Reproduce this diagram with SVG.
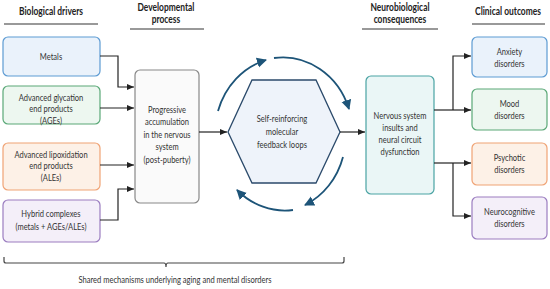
<svg xmlns="http://www.w3.org/2000/svg" width="550" height="289" viewBox="0 0 550 289">
<defs>
<marker id="ah" markerWidth="8" markerHeight="8" refX="7" refY="4" orient="auto" markerUnits="userSpaceOnUse">
<path d="M0,1 L7,4 L0,7 Z" fill="#222"/>
</marker>
<marker id="bh" markerWidth="12" markerHeight="12" refX="9" refY="6" orient="auto" markerUnits="userSpaceOnUse">
<path d="M0,1 L10,6 L0,11 Z" fill="#1d5478"/>
</marker>
<style>
.t{font-family:Lato,"Liberation Sans",sans-serif;font-size:9.2px;fill:#333;text-anchor:middle}
.s{font-family:Lato,"Liberation Sans",sans-serif;font-size:8.6px;fill:#333;text-anchor:middle}
.h{font-family:Lato,"Liberation Sans",sans-serif;font-size:10.8px;font-weight:bold;fill:#222;text-anchor:middle}
.ul{stroke:#777;stroke-width:1.5;fill:none}
.c{stroke:#222;stroke-width:1.2;fill:none;marker-end:url(#ah)}
.cn{stroke:#222;stroke-width:1.2;fill:none}
.loop{stroke:#1d5478;stroke-width:1.8;fill:none;marker-end:url(#bh)}
</style>
</defs>
<rect width="550" height="289" fill="#fff"/>

<g id="headers">
<g transform="scale(0.78 1)">
<text class="h" x="65.4" y="15">Biological drivers</text>
<text class="h" x="212.8" y="11">Developmental</text>
<text class="h" x="212.8" y="23">process</text>
<text class="h" x="512.8" y="11">Neurobiological</text>
<text class="h" x="512.8" y="23">consequences</text>
<text class="h" x="651.3" y="15">Clinical outcomes</text>
</g>
<line class="ul" x1="4" y1="24" x2="98" y2="24"/>
<line class="ul" x1="130" y1="29" x2="204" y2="29"/>
<line class="ul" x1="362" y1="29" x2="438" y2="29"/>
<line class="ul" x1="472" y1="24" x2="545" y2="24"/>
</g>

<g id="metals">
<rect x="3" y="37" width="97" height="39" rx="5" fill="#eaf2fb" stroke="#5d9bd3" stroke-width="1.2"/>
<g transform="scale(0.82 1)"><text class="t" x="62.2" y="60">Metals</text></g>
</g>
<g id="ages">
<rect x="3" y="86" width="97" height="38" rx="5" fill="#edf7f0" stroke="#5aa877" stroke-width="1.2"/>
<g transform="scale(0.82 1)">
<text class="t" x="62.2" y="101">Advanced glycation</text>
<text class="t" x="62.2" y="112.5">end products</text>
<text class="t" x="62.2" y="124">(AGEs)</text>
</g>
</g>
<g id="ales">
<rect x="3" y="143" width="97" height="47" rx="5" fill="#fdf1e7" stroke="#f0a375" stroke-width="1.2"/>
<g transform="scale(0.82 1)">
<text class="t" x="62.2" y="158">Advanced lipoxidation</text>
<text class="t" x="62.2" y="169.5">end products</text>
<text class="t" x="62.2" y="181">(ALEs)</text>
</g>
</g>
<g id="hybrid">
<rect x="3" y="200" width="97" height="42" rx="5" fill="#f4eff9" stroke="#9b7dc0" stroke-width="1.2"/>
<g transform="scale(0.82 1)">
<text class="t" x="62.2" y="217.5">Hybrid complexes</text>
<text class="t" x="62.2" y="230">(metals + AGEs/ALEs)</text>
</g>
</g>

<g id="accumulation">
<rect x="135" y="70" width="64" height="133" rx="5" fill="#fafafa" stroke="#888" stroke-width="1.2"/>
<g transform="scale(0.82 1)">
<text class="t" x="203.7" y="113">Progressive</text>
<text class="t" x="203.7" y="125.5">accumulation</text>
<text class="t" x="203.7" y="138">in the nervous</text>
<text class="t" x="203.7" y="150.5">system</text>
<text class="t" x="203.7" y="163">(post-puberty)</text>
</g>
</g>

<g id="feedback">
<polygon points="228,132 252,80 316,80 340,132 316,183 252,183" fill="#eef3fa" stroke="#2b4a6b" stroke-width="1.3"/>
<g transform="scale(0.82 1)">
<text class="t" x="343.9" y="122">Self-reinforcing</text>
<text class="t" x="343.9" y="135">molecular</text>
<text class="t" x="343.9" y="148">feedback loops</text>
</g>
</g>

<g id="insults">
<rect x="366" y="76" width="68" height="118" rx="5" fill="#eaf6f6" stroke="#4aa3a3" stroke-width="1.2"/>
<g transform="scale(0.82 1)">
<text class="t" x="487.8" y="119">Nervous system</text>
<text class="t" x="487.8" y="131">insults and</text>
<text class="t" x="487.8" y="143">neural circuit</text>
<text class="t" x="487.8" y="155">dysfunction</text>
</g>
</g>

<g id="anxiety">
<rect x="472" y="37" width="75" height="40" rx="5" fill="#eaf2fb" stroke="#5d9bd3" stroke-width="1.2"/>
<g transform="scale(0.82 1)">
<text class="t" x="621.3" y="55.5">Anxiety</text>
<text class="t" x="621.3" y="67">disorders</text>
</g>
</g>
<g id="mood">
<rect x="472" y="89" width="75" height="41" rx="5" fill="#edf7f0" stroke="#5aa877" stroke-width="1.2"/>
<g transform="scale(0.82 1)">
<text class="t" x="621.3" y="107.5">Mood</text>
<text class="t" x="621.3" y="119.5">disorders</text>
</g>
</g>
<g id="psychotic">
<rect x="472" y="143" width="75" height="42" rx="5" fill="#fdf1e7" stroke="#f0a375" stroke-width="1.2"/>
<g transform="scale(0.82 1)">
<text class="t" x="621.3" y="161.5">Psychotic</text>
<text class="t" x="621.3" y="173.5">disorders</text>
</g>
</g>
<g id="neurocognitive">
<rect x="472" y="197" width="75" height="42" rx="5" fill="#f4eff9" stroke="#9b7dc0" stroke-width="1.2"/>
<g transform="scale(0.82 1)">
<text class="t" x="621.3" y="215">Neurocognitive</text>
<text class="t" x="621.3" y="227.5">disorders</text>
</g>
</g>

<g id="connectors">
<path class="c" d="M100,56 H118 V87 H134"/>
<path class="c" d="M100,108 H134"/>
<path class="c" d="M100,165 H134"/>
<path class="c" d="M100,220 H118 V189 H134"/>
<path class="c" d="M199,132 H227"/>
<path class="c" d="M340,132 H365"/>
<path class="cn" d="M434,110 H453"/>
<path class="c" d="M453,110 V56 H471"/>
<path class="c" d="M453,110 H471"/>
<path class="cn" d="M434,163 H453"/>
<path class="c" d="M453,163 H471"/>
<path class="c" d="M453,163 V216 H471"/>
<path class="loop" d="M218,111 A70 76 0 0 1 266,60"/>
<path class="loop" d="M274,58 A70 76 0 0 1 349,109"/>
<path class="loop" d="M343,157 A70 76 0 0 1 305,205"/>
<path class="loop" d="M293,210 A70 76 0 0 1 237,190"/>
</g>

<g id="brace">
<path d="M4,257 V261 Q4,263 6,263 H164 Q166,263 166,267 Q166,263 168,263 H342 Q344,263 344,261 V257" fill="none" stroke="#444" stroke-width="1.2"/>
<g transform="scale(0.88 1)"><text class="s" x="198.9" y="283">Shared mechanisms underlying aging and mental disorders</text></g>
</g>
</svg>
